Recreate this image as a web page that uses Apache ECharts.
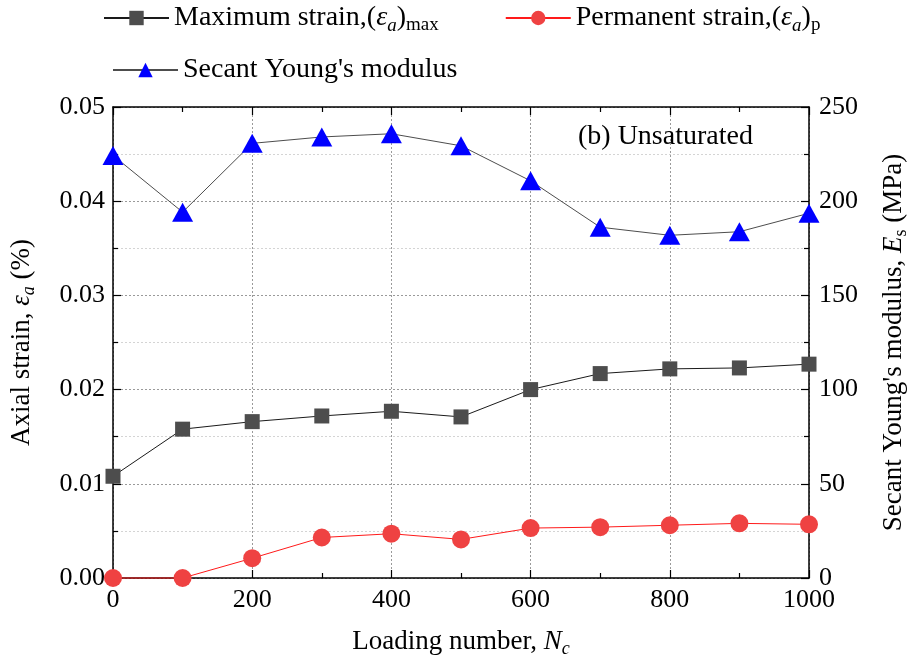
<!DOCTYPE html>
<html>
<head>
<meta charset="utf-8">
<script src="https://cdn.jsdelivr.net/npm/echarts@6/dist/echarts.min.js"></script>
<style>
  html, body { margin: 0; padding: 0; background: #fff; }
  #chart { width: 909px; height: 661px; }
</style>
</head>
<body>
<div id="chart"></div>
<script>
// Loading cycles (x) and measured responses
const loadingNumbers = [0, 100, 200, 300, 400, 500, 600, 700, 800, 900, 1000];
const maxStrain      = [0.0108, 0.0158, 0.0166, 0.0172, 0.0177, 0.0171, 0.0200, 0.0217, 0.0222, 0.0223, 0.0227];
const permStrain     = [0.0000, 0.0000, 0.0021, 0.0043, 0.0047, 0.0041, 0.0053, 0.0054, 0.0056, 0.0058, 0.0057];
const secantModulus  = [224.3, 194.2, 230.7, 234.1, 235.8, 229.4, 210.8, 186.2, 181.9, 183.8, 193.6];

const seriesNames = ['Maximum strain', 'Permanent strain', "Secant Young's modulus"];

const SERIF = '"Liberation Serif", "Times New Roman", Times, serif';

// rich-text pieces used for subscripts and italic symbols
function richSet(size) {
  const sub = Math.round(size * 0.68);
  return {
    t:    { fontFamily: SERIF, fontSize: size, color: '#000', lineHeight: size + 6 },
    i:    { fontFamily: SERIF, fontSize: size, fontStyle: 'italic', color: '#000', lineHeight: size + 6 },
    isub: { fontFamily: SERIF, fontSize: sub, fontStyle: 'italic', color: '#000', lineHeight: 10, verticalAlign: 'bottom' },
    sub:  { fontFamily: SERIF, fontSize: sub, color: '#000', lineHeight: 10, verticalAlign: 'bottom' }
  };
}

const legendLabels = {
  'Maximum strain': '{t|Maximum strain,(}{i|ε}{isub|a}{t|)}{sub|max}',
  'Permanent strain': '{t|Permanent strain,(}{i|ε}{isub|a}{t|)}{sub|p}',
  "Secant Young's modulus": "{t|Secant Young's modulus}"
};

const pairs = (ys) => loadingNumbers.map((x, k) => [x, ys[k]]);

const axisLineStyle = { color: '#000', width: 1.5 };
const tickStyle = { color: '#000', width: 1.2 };

const chart = echarts.init(document.getElementById('chart'), null, { renderer: 'canvas' });

const legendCommon = {
  orient: 'horizontal',
  itemWidth: 65,
  itemHeight: 18,
  itemGap: 66,
  padding: 0,
  formatter: (name) => legendLabels[name],
  textStyle: { rich: richSet(28) }
};

chart.setOption({
  animation: false,
  backgroundColor: '#fff',
  grid: { left: 113, right: 100, top: 107, bottom: 83, containLabel: false, outerBoundsMode: 'none' },
  legend: [
    Object.assign({ left: 103, top: 4, data: [seriesNames[0], seriesNames[1]] }, legendCommon),
    Object.assign({ left: 112, top: 56, data: [seriesNames[2]] }, legendCommon)
  ],
  xAxis: [
    {
      type: 'value', position: 'bottom', min: 0, max: 1000, interval: 200,
      name: '{t|Loading number, }{i|N}{isub|c}',
      nameLocation: 'middle', nameGap: 47,
      nameTextStyle: { rich: richSet(27) },
      axisLine: { show: true, onZero: false, lineStyle: axisLineStyle },
      axisTick: { show: true, inside: true, length: 8, lineStyle: tickStyle },
      minorTick: { show: true, splitNumber: 2, length: 5, lineStyle: tickStyle },
      axisLabel: { margin: 9, fontFamily: SERIF, fontSize: 26, color: '#000', formatter: (v) => String(v) },
      splitLine: { show: true, lineStyle: { color: '#9a9a9a', type: [2, 2], width: 1 } }
    },
    {
      type: 'value', position: 'top', min: 0, max: 1000, interval: 200,
      axisLine: { show: true, onZero: false, lineStyle: axisLineStyle },
      axisTick: { show: true, inside: true, length: 8, lineStyle: tickStyle },
      minorTick: { show: true, splitNumber: 2, length: 5, lineStyle: tickStyle },
      axisLabel: { show: false },
      splitLine: { show: false }
    }
  ],
  yAxis: [
    {
      type: 'value', position: 'left', min: 0, max: 0.05, interval: 0.01,
      name: '{t|Axial strain, }{i|ε}{isub|a}{t| (%)}',
      nameLocation: 'middle', nameGap: 75,
      nameTextStyle: { rich: richSet(27) },
      axisLine: { show: true, onZero: false, lineStyle: axisLineStyle },
      axisTick: { show: true, inside: true, length: 8, lineStyle: tickStyle },
      minorTick: { show: true, splitNumber: 2, length: 5, lineStyle: tickStyle },
      axisLabel: { margin: 8, fontFamily: SERIF, fontSize: 26, color: '#000', formatter: (v) => v.toFixed(2) },
      splitLine: { show: true, lineStyle: { color: '#9a9a9a', type: [2, 2], width: 1 } },
      minorSplitLine: { show: true, lineStyle: { color: '#d4d4d4', type: [2, 2], width: 1 } }
    },
    {
      type: 'value', position: 'right', min: 0, max: 250, interval: 50,
      name: "{t|Secant Young's modulus, }{i|E}{sub|s}{t| (MPa)}",
      nameLocation: 'middle', nameGap: 68,
      nameTextStyle: { rich: richSet(27) },
      axisLine: { show: true, onZero: false, lineStyle: axisLineStyle },
      axisTick: { show: true, inside: true, length: 8, lineStyle: tickStyle },
      minorTick: { show: true, splitNumber: 2, length: 5, lineStyle: tickStyle },
      axisLabel: { margin: 10, fontFamily: SERIF, fontSize: 26, color: '#000' },
      splitLine: { show: false }
    }
  ],
  graphic: [
    {
      type: 'text', left: 578, top: 123, z: 10,
      style: { text: '(b) Unsaturated', font: '28px ' + SERIF, fill: '#000' }
    }
  ],
  series: [
    {
      name: seriesNames[0], type: 'line', xAxisIndex: 0, yAxisIndex: 0, clip: false,
      data: pairs(maxStrain),
      symbol: 'rect', symbolSize: 15,
      itemStyle: { color: '#4d4d4d', borderWidth: 0 },
      lineStyle: { color: '#1a1a1a', width: 1 },
      z: 3
    },
    {
      name: seriesNames[1], type: 'line', xAxisIndex: 0, yAxisIndex: 0, clip: false,
      data: pairs(permStrain),
      symbol: 'circle', symbolSize: 18,
      itemStyle: { color: '#ef4242' },
      lineStyle: { color: '#ff1a1a', width: 1 },
      z: 3
    },
    {
      name: seriesNames[2], type: 'line', xAxisIndex: 0, yAxisIndex: 1, clip: false,
      data: pairs(secantModulus),
      symbol: 'triangle', symbolSize: [21, 19],
      itemStyle: { color: '#0000ff' },
      lineStyle: { color: '#4d4d4d', width: 1 },
      z: 3
    }
  ]
});
</script>
</body>
</html>
